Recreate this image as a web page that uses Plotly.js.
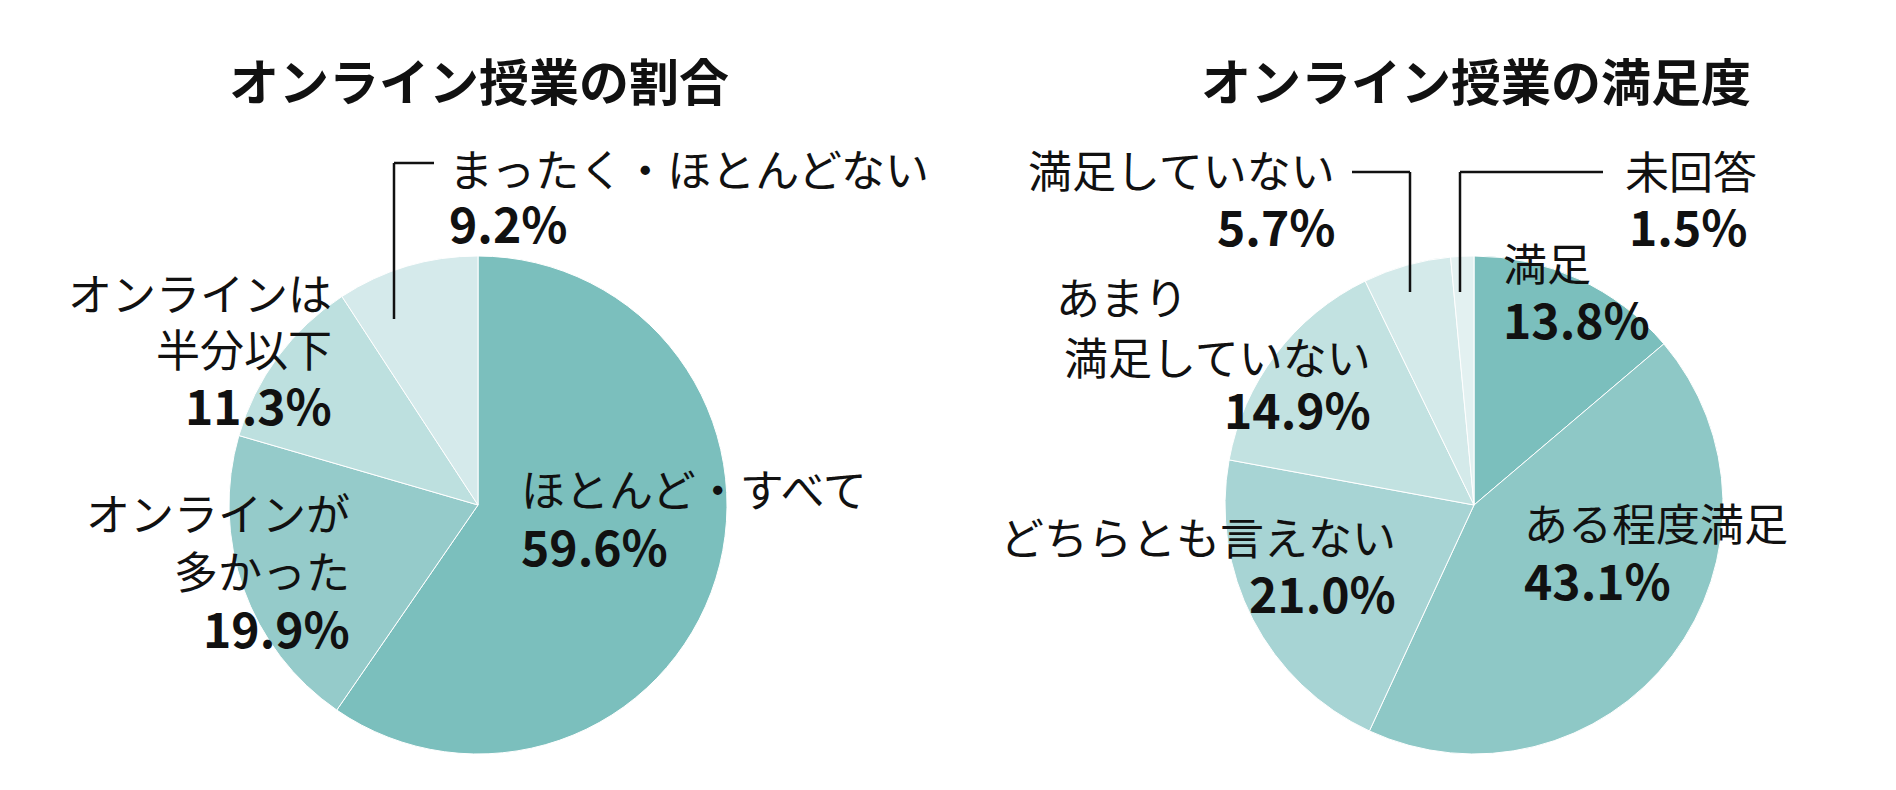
<!DOCTYPE html>
<html>
<head>
<meta charset="utf-8">
<script src="https://cdn.plot.ly/plotly-3.0.1.min.js"></script>
<style>
  html, body { margin: 0; padding: 0; background: #ffffff; }
  #chart { width: 1896px; height: 790px; }
</style>
</head>
<body>
<div id="chart"></div>
<script>
// ---- data ----
const leftTitle = 'オンライン授業の割合';
const leftLabels = ['ほとんど・すべて', 'オンラインが多かった', 'オンラインは半分以下', 'まったく・ほとんどない'];
const leftValues = [59.6, 19.9, 11.3, 9.2];

const rightTitle = 'オンライン授業の満足度';
const rightLabels = ['満足', 'ある程度満足', 'どちらとも言えない', 'あまり満足していない', '満足していない', '未回答'];
const rightValues = [13.8, 43.1, 21.0, 14.9, 5.7, 1.5];

// line breaks used for the label text
const leftLabelLines = [['ほとんど・すべて'], ['オンラインが', '多かった'], ['オンラインは', '半分以下'], ['まったく・ほとんどない']];
const rightLabelLines = [['満足'], ['ある程度満足'], ['どちらとも言えない'], ['あまり', '満足していない'], ['満足していない'], ['未回答']];

// ---- styles ----
const leftColors = ['#7bbfbd', '#95cbca', '#bde0df', '#d5eaeb'];
const rightColors = ['#7bbfbd', '#8ec8c6', '#a7d4d4', '#c2e2e1', '#d4eaea', '#e3f1f1'];
const W = 1896, H = 790;
const FONT = '"Noto Sans CJK JP", "Noto Sans", sans-serif';
const px = x => x / W;
const py = y => 1 - y / H;

// label placement (pixel positions): [seriesIndex, part, x, y, anchor]
const leftPlace = [
  [0, 0, 519, 488, 'left'], [0, 'p', 519, 545, 'left'],
  [1, 0, 352, 512, 'right'], [1, 1, 352, 570, 'right'], [1, 'p', 352, 627, 'right'],
  [2, 0, 334, 292, 'right'], [2, 1, 334, 348, 'right'], [2, 'p', 334, 404, 'right'],
  [3, 0, 447, 168, 'left'], [3, 'p', 447, 222, 'left']
];
const rightPlace = [
  [0, 0, 1501, 262, 'left'], [0, 'p', 1501, 318, 'left'],
  [1, 0, 1522, 522, 'left'], [1, 'p', 1522, 579, 'left'],
  [2, 0, 1398, 536, 'right'], [2, 'p', 1398, 592, 'right'],
  [3, 0, 1054, 296, 'left'], [3, 1, 1373, 356, 'right'], [3, 'p', 1373, 408, 'right'],
  [4, 0, 1337, 169, 'right'], [4, 'p', 1337, 225, 'right'],
  [5, 0, 1691, 170, 'center'], [5, 'p', 1688, 225, 'center']
];

function makeAnn(place, lines, values) {
  return place.map(([i, part, x, y, anchor]) => {
    const isPct = part === 'p';
    return {
      xref: 'paper', yref: 'paper', x: px(x), y: py(y),
      xanchor: anchor, yanchor: 'middle', showarrow: false, align: anchor,
      text: isPct ? '<b>' + values[i].toFixed(1) + '%</b>' : lines[i][part],
      font: { family: FONT, size: isPct ? 48 : 44, color: '#111111' }
    };
  });
}

const annotations = [
  { xref: 'paper', yref: 'paper', x: px(479), y: py(79), xanchor: 'center', yanchor: 'middle', showarrow: false,
    text: '<b>' + leftTitle + '</b>', font: { family: FONT, size: 50, color: '#111111' } },
  { xref: 'paper', yref: 'paper', x: px(1476), y: py(79), xanchor: 'center', yanchor: 'middle', showarrow: false,
    text: '<b>' + rightTitle + '</b>', font: { family: FONT, size: 50, color: '#111111' } }
].concat(makeAnn(leftPlace, leftLabelLines, leftValues), makeAnn(rightPlace, rightLabelLines, rightValues));

function seg(x0, y0, x1, y1) {
  return { type: 'line', xref: 'paper', yref: 'paper', x0: px(x0), y0: py(y0), x1: px(x1), y1: py(y1),
           line: { color: '#111111', width: 2.5 } };
}
const shapes = [
  seg(434, 163, 394, 163), seg(394, 163, 394, 319),
  seg(1352, 172, 1410, 172), seg(1410, 172, 1410, 292),
  seg(1460, 292, 1460, 172), seg(1460, 172, 1603, 172)
];

const pieCommon = {
  type: 'pie', sort: false, direction: 'clockwise', rotation: 0,
  textinfo: 'none', hoverinfo: 'none', showlegend: false
};
const traces = [
  Object.assign({}, pieCommon, {
    labels: leftLabels, values: leftValues,
    marker: { colors: leftColors, line: { color: '#ffffff', width: 1 } },
    domain: { x: [px(229), px(727)], y: [py(754), py(256)] }
  }),
  Object.assign({}, pieCommon, {
    labels: rightLabels, values: rightValues,
    marker: { colors: rightColors, line: { color: '#ffffff', width: 1 } },
    domain: { x: [px(1225), px(1723)], y: [py(754), py(256)] }
  })
];

const layout = {
  width: W, height: H,
  margin: { l: 0, r: 0, t: 0, b: 0 },
  paper_bgcolor: '#ffffff', plot_bgcolor: '#ffffff',
  annotations: annotations, shapes: shapes,
  font: { family: FONT }
};
Plotly.newPlot('chart', traces, layout, { staticPlot: true, displayModeBar: false });
</script>
</body>
</html>
